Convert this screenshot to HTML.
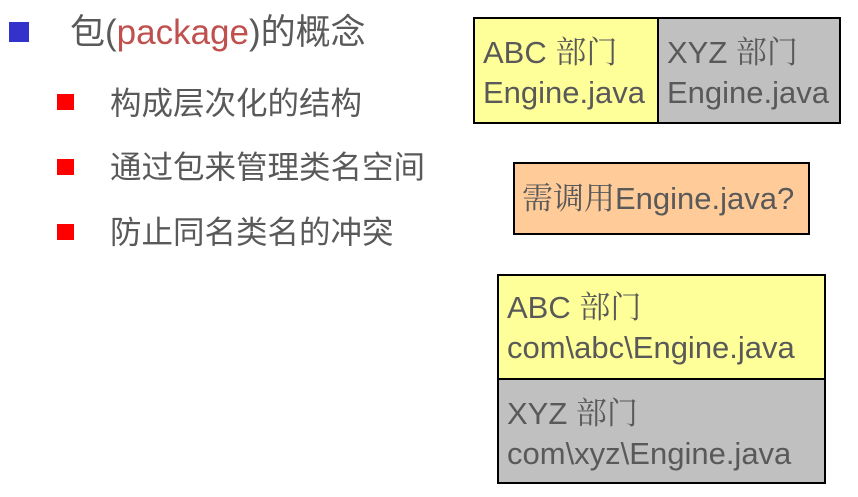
<!DOCTYPE html>
<html><head><meta charset="utf-8"><style>
body{margin:0;width:858px;height:497px;background:#fff;position:relative;overflow:hidden;font-family:"Liberation Sans","Noto Sans CJK SC",sans-serif;color:#595959}
.sq{position:absolute}
.t{position:absolute;white-space:nowrap;line-height:1}
.box{position:absolute;border:2px solid #000;box-sizing:border-box}
.bl{position:absolute;left:8px;font-size:31px;line-height:40px;white-space:nowrap}
.cj{font-family:"Liberation Sans","Noto Serif CJK SC",serif}
</style></head><body>
<div class="sq" style="left:9px;top:22px;width:20px;height:20px;background:#3333cc"></div>
<div class="t" style="left:70px;top:15px;font-size:35px">包(<span style="color:#c0504d">package</span>)的概念</div>
<div class="sq" style="left:57px;top:94px;width:17px;height:16px;background:#ff0000"></div>
<div class="sq" style="left:57px;top:159px;width:17px;height:16px;background:#ff0000"></div>
<div class="sq" style="left:57px;top:224px;width:17px;height:16px;background:#ff0000"></div>
<div class="t" style="left:110px;top:88px;font-size:31.5px">构成层次化的结构</div>
<div class="t" style="left:110px;top:152px;font-size:31.5px">通过包来管理类名空间</div>
<div class="t" style="left:110px;top:217px;font-size:31.5px">防止同名类名的冲突</div>

<div class="box" style="left:473px;top:17px;width:186px;height:107px;background:#ffff99">
<div class="bl" style="top:14px">ABC <span class="cj">部门</span></div>
<div class="bl" style="top:54px">Engine.java</div></div>
<div class="box" style="left:657px;top:17px;width:184px;height:107px;background:#c0c0c0">
<div class="bl" style="top:14px">XYZ <span class="cj">部门</span></div>
<div class="bl" style="top:54px">Engine.java</div></div>

<div class="box" style="left:513px;top:162px;width:297px;height:73px;background:#ffcc99">
<div class="bl" style="top:15px;left:7px"><span class="cj">需调用</span>Engine.java?</div></div>

<div class="box" style="left:497px;top:274px;width:329px;height:106px;background:#ffff99">
<div class="bl" style="top:12px">ABC <span class="cj">部门</span></div>
<div class="bl" style="top:52px">com\abc\Engine.java</div></div>
<div class="box" style="left:497px;top:378px;width:329px;height:106px;background:#c0c0c0">
<div class="bl" style="top:14px">XYZ <span class="cj">部门</span></div>
<div class="bl" style="top:54px">com\xyz\Engine.java</div></div>
</body></html>
